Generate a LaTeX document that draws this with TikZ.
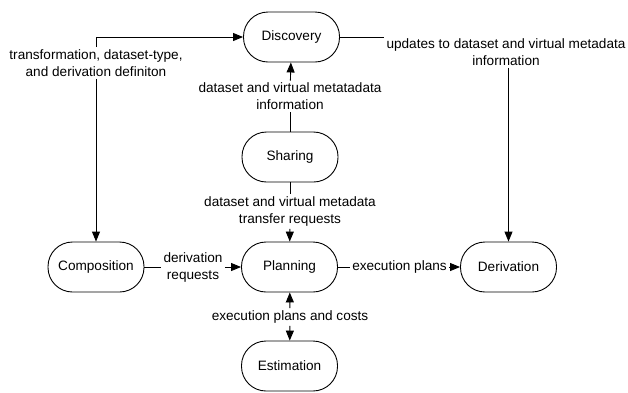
\documentclass[tikz,border=0pt]{standalone}
\usepackage{fontspec}
\setmainfont{Liberation Sans}
\usetikzlibrary{arrows.meta}
\begin{document}
\begin{tikzpicture}[x=1pt,y=-1pt,
  font=\fontsize{13.6}{17}\selectfont,
  proc/.style={draw, line width=0.9pt, rounded corners=24.5pt, minimum width=96pt, minimum height=50pt, inner sep=0pt},
  lab/.style={align=center, inner sep=2pt},
  arr/.style={-{Triangle[length=10pt,width=8pt]}},
  every path/.style={line width=0.9pt}]
\useasboundingbox (0,0) rectangle (628,392);
\node[proc] (disc) at (291.5,37) {Discovery};
\node[proc] (shar) at (290,157) {Sharing};
\node[proc] (plan) at (289.5,267) {Planning};
\node[proc] (esti) at (289.5,366) {Estimation};
\node[proc] (comp) at (96,267) {Composition};
\node[proc] (deri) at (508.5,267) {Derivation};
\node[lab] (l1) at (96,63) {transformation, dataset-type,\\and derivation definiton};
\node[lab] (l2) at (506,52) {updates to dataset and virtual metadata\\information};
\node[lab] (l3) at (290,96.5) {dataset and virtual metatadata\\information};
\node[lab] (l4) at (290,211.5) {dataset and virtual metadata\\transfer requests};
\node[lab] (l5) at (193,267) {derivation\\requests};
\node[lab] (l6) at (399.5,267) {execution plans};
\node[lab] (l7) at (290,317) {execution plans and costs};
\draw[arr] (l1) -- (comp);
\draw[arr] (l1) |- (disc);
\draw (disc) -- (disc -| l2.west);
\draw[arr] (l2.south -| deri.north) -- (deri);
\draw (shar) -- (l3);
\draw[arr] (l3) -- (disc);
\draw (shar) -- (l4);
\draw[arr] (l4) -- (plan);
\draw (comp) -- (l5);
\draw[arr] (l5) -- (plan);
\draw (plan) -- (l6);
\draw[arr] (l6) -- (deri);
\draw[arr] (l7) -- (plan);
\draw[arr] (l7) -- (esti);
\end{tikzpicture}
\end{document}
